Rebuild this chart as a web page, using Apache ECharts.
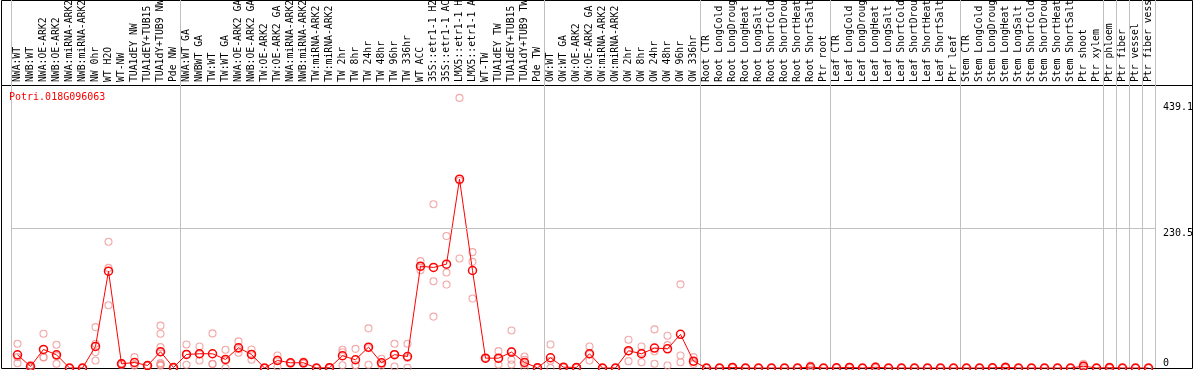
<!DOCTYPE html>
<html>
<head>
<meta charset="utf-8">
<script src="https://cdn.jsdelivr.net/npm/echarts@6/dist/echarts.min.js"></script>
<style>
  html, body { margin: 0; padding: 0; background: #fff; }
  #chart { width: 1194px; height: 370px; }
</style>
</head>
<body>
<div id="chart"></div>
<script>
const geneId = 'Potri.018G096063';

const categories = [
    'NWA:WT', 'NWB:WT', 'NWA:OE-ARK2', 'NWB:OE-ARK2', 'NWA:miRNA-ARK2', 'NWB:miRNA-ARK2',
    'NW 0hr', 'WT H2O', 'WT-NW', 'TUA1dEY NW', 'TUA1dEY+TUB15 NW', 'TUA1dY+TUB9 NW', 'Pde NW',
    'NWA:WT GA', 'NWBWT GA', 'TW:WT', 'TW:WT GA', 'NWA:OE-ARK2 GA', 'NWB:OE-ARK2 GA',
    'TW:OE-ARK2', 'TW:OE-ARK2 GA', 'NWA:miRNA-ARK2', 'NWB:miRNA-ARK2', 'TW:miRNA-ARK2', 'TW:miRNA-ARK2',
    'TW 2hr', 'TW 8hr', 'TW 24hr', 'TW 48hr', 'TW 96hr', 'TW 336hr', 'WT ACC',
    '35S::etr1-1 H2O', '35S::etr1-1 ACC', 'LMX5::etr1-1 H2O', 'LMX5::etr1-1 ACC',
    'WT-TW', 'TUA1dEY TW', 'TUA1dEY+TUB15 TW', 'TUA1dY+TUB9 TW', 'Pde TW',
    'OW:WT', 'OW:WT GA', 'OW:OE-ARK2', 'OW:OE-ARK2 GA', 'OW:miRNA-ARK2', 'OW:miRNA-ARK2',
    'OW 2hr', 'OW 8hr', 'OW 24hr', 'OW 48hr', 'OW 96hr', 'OW 336hr',
    'Root CTR', 'Root LongCold', 'Root LongDrought', 'Root LongHeat', 'Root LongSalt',
    'Root ShortCold', 'Root ShortDrought', 'Root ShortHeat', 'Root ShortSalt', 'Ptr root',
    'Leaf CTR', 'Leaf LongCold', 'Leaf LongDrought', 'Leaf LongHeat', 'Leaf LongSalt',
    'Leaf ShortCold', 'Leaf ShortDrought', 'Leaf ShortHeat', 'Leaf ShortSalt', 'Ptr leaf',
    'Stem CTR', 'Stem LongCold', 'Stem LongDrought', 'Stem LongHeat', 'Stem LongSalt',
    'Stem ShortCold', 'Stem ShortDrought', 'Stem ShortHeat', 'Stem ShortSalt', 'Ptr shoot',
    'Ptr xylem', 'Ptr phloem', 'Ptr fiber', 'Ptr vessel', 'Ptr fiber vessel'
];

// index of the first category of each sample group (grey separators)
const groupStarts = [0, 13, 41, 53, 63, 73, 84, 85, 86, 87];

// mean expression (red line)
const means = [
    21.8, 2.5, 30.6, 21.8, 0, 0, 35.6, 159.8, 6.9, 9.1, 4.1, 26.8, 0.8,
    22.4, 23.5, 23.5, 14.1, 33.4, 22.4, 0, 12.4, 8.6, 8.6, 0, 0.5,
    20.2, 13.6, 34.4, 8.6, 22, 19, 168, 165.9, 171.4, 311.6, 160.9,
    16.2, 16.2, 26.2, 9.1, 0.3,
    16.9, 1.3, 1, 23.5, 0, 0, 28.5, 23.5, 32.8, 31.7, 55.5, 11.3,
    0, 0, 1, 0, 0, 0, 0, 0, 1.5, 0,
    0.3, 1, 0, 1.2, 0, 0, 0, 0, 0, 0,
    0, 0, 0.3, 1, 0, 0, 0, 0, 0, 3,
    0, 0.5, 0, 0, 0
];

// individual replicates (light circles)
const replicates = [
    [40, 17.9, 7.9], [5, 2, 0.5], [56.6, 17.9, 17.3], [38.4, 20, 7], [0, 0, 0], [0, 0, 0],
    [67.5, 40, 26.2, 12.4], [208.3, 165.2, 103.5], [8, 7, 5], [18, 5.4, 4], [4.5, 4, 3.8],
    [69.9, 56.6, 34.4, 26.2, 8, 6, 5, 4], [1, 0.5, 0.5],
    [38.9, 23, 5.3], [35.6, 22.5, 12.4], [57.1, 7, 6.4], [30.1, 12.2, 0], [43.9, 31, 25.2],
    [30.6, 23, 13.6], [0, 0, 0], [20.7, 14, 2.5], [9, 8.6, 8], [10.8, 8, 7], [0, 0, 0], [1.5, 0, 0],
    [30.1, 26, 4.6], [31.6, 4.6, 4.6], [65.4, 32.5, 5.3], [15.2, 7, 4], [40, 23, 2.5], [40, 16.5, 0.5],
    [176.3, 166.3, 161.4], [270.2, 143.2, 84.8], [217.7, 157.6, 137.7], [445.7, 308.8, 180.8],
    [191.2, 175.2, 114.6], [17, 16, 15.5], [27.8, 15, 5.8], [62, 27.8, 13.6, 5.8], [19, 13.6, 5.8, 0],
    [1, 0, 0],
    [38.9, 12, 0], [2, 1, 1], [1.5, 1, 0.5], [35.6, 22.5, 12.4], [0, 0, 0], [0, 0, 0],
    [46.7, 27.5, 11.3], [35.6, 25.3, 9.6], [63.7, 27.7, 7], [53.3, 37.7, 4.1], [138, 20.7, 9.6],
    [17.9, 9.6, 6.5],
    [0, 0, 0], [0, 0, 0], [2, 1, 0], [0, 0, 0], [0, 0, 0], [0, 0, 0], [0, 0, 0], [0, 0, 0],
    [4, 0.5, 0], [0, 0, 0],
    [0.5, 0.3, 0], [2, 1, 0], [0, 0, 0], [3, 0.5, 0], [0, 0, 0], [0, 0, 0], [0, 0, 0], [0, 0, 0],
    [0, 0, 0], [0, 0, 0],
    [0, 0, 0], [0, 0, 0], [0.5, 0.3, 0], [3, 0.5, 0], [0, 0, 0], [0, 0, 0], [0, 0, 0], [0, 0, 0],
    [0, 0, 0], [7, 4, 4, 1, 0],
    [0, 0, 0], [2.5, 0, 0], [0, 0, 0], [0, 0, 0], [0, 0, 0]
];

const yTicks = [0, 230.5, 439.1];
const yMax = 467;

const MONO = 'DejaVu Sans Mono';
const GREY = '#c0c0c0';

const chart = echarts.init(document.getElementById('chart'), null, { renderer: 'canvas' });

const replicatePoints = [];
replicates.forEach((arr, i) => arr.forEach(v => replicatePoints.push([i, v])));

const groupSplit = {
    show: true,
    interval: (index) => groupStarts.indexOf(index) >= 0,
    lineStyle: { color: GREY, width: 1 }
};

const hiddenValueAxis = (gridIndex) => ({ type: 'value', gridIndex, show: false });

const option = {
    animation: false,
    backgroundColor: '#fff',
    title: {
        text: geneId,
        left: 9,
        top: 92,
        padding: 0,
        textStyle: { color: '#ff0000', fontFamily: MONO, fontSize: 10, fontWeight: 'normal' }
    },
    grid: [
        // label strip
        { left: 11, right: 39, top: 0, height: 85, outerBoundsMode: 'none', containLabel: false },
        // plot
        { left: 11, right: 39, top: 85, height: 283, outerBoundsMode: 'none', containLabel: false },
        // frame boxes
        { left: 1.5, right: 1.5, top: 0.5, height: 85, show: true, borderColor: '#000', borderWidth: 1,
          backgroundColor: 'transparent', outerBoundsMode: 'none' },
        { left: 1.5, right: 1.5, top: 85.5, height: 283, show: true, borderColor: '#000', borderWidth: 1,
          backgroundColor: 'transparent', outerBoundsMode: 'none' }
    ],
    xAxis: [
        {
            type: 'category', gridIndex: 0, data: categories, boundaryGap: true,
            axisLine: { show: false }, axisTick: { show: false }, axisLabel: { show: false },
            splitLine: groupSplit
        },
        {
            type: 'category', gridIndex: 1, data: categories, boundaryGap: true, position: 'top',
            axisLine: { show: false, onZero: false }, axisTick: { show: false },
            axisLabel: {
                interval: 0, rotate: -90, margin: 3, color: '#000',
                fontFamily: MONO, fontSize: 9.75
            },
            splitLine: groupSplit
        },
        hiddenValueAxis(2),
        hiddenValueAxis(3)
    ],
    yAxis: [
        hiddenValueAxis(0),
        {
            type: 'value', gridIndex: 1, min: 0, max: yMax, position: 'right',
            axisLine: { show: false }, axisTick: { show: false }, splitLine: { show: false },
            axisLabel: {
                customValues: yTicks,
                margin: 8,
                align: 'left',
                color: '#000',
                fontFamily: MONO,
                fontSize: 10,
                formatter: (v) => v === 0 ? '{b|0}' : '{t|' + v + '}',
                rich: {
                    t: { fontFamily: MONO, fontSize: 10, color: '#000', padding: [10, 0, 0, 0] },
                    b: { fontFamily: MONO, fontSize: 10, color: '#000', padding: [0, 0, 10, 0] }
                }
            }
        },
        hiddenValueAxis(2),
        hiddenValueAxis(3)
    ],
    series: [
        {
            type: 'scatter',
            xAxisIndex: 1, yAxisIndex: 1,
            data: replicatePoints,
            symbol: 'circle',
            symbolSize: 7,
            silent: true,
            z: 2,
            itemStyle: { color: 'rgba(0,0,0,0)', borderColor: '#ee9494', borderWidth: 1.1 },
            markLine: {
                silent: true,
                symbol: 'none',
                label: { show: false },
                lineStyle: { color: GREY, width: 1, type: 'solid' },
                data: [{ yAxis: yTicks[1] }]
            }
        },
        {
            type: 'line',
            xAxisIndex: 1, yAxisIndex: 1,
            data: means,
            symbol: 'circle',
            symbolSize: 8,
            showAllSymbol: true,
            silent: true,
            z: 3,
            lineStyle: { color: '#ff0000', width: 1 },
            itemStyle: { color: 'rgba(0,0,0,0)', borderColor: '#ff0000', borderWidth: 1.5 }
        }
    ]
};

chart.setOption(option);
</script>
</body>
</html>
